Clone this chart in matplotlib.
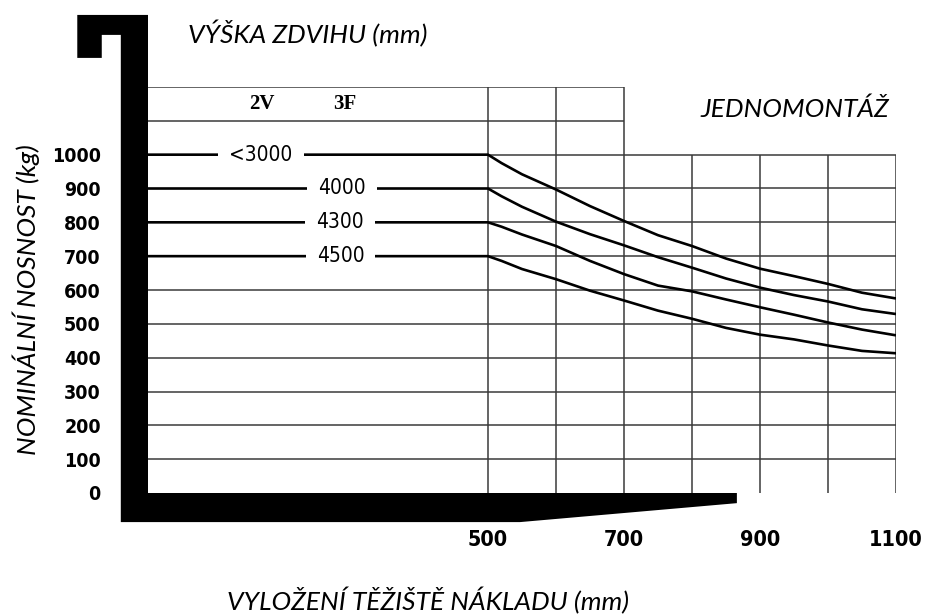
import matplotlib
matplotlib.use("Agg")
import matplotlib.pyplot as plt
from matplotlib import font_manager
from matplotlib.patches import Polygon

# load centre distance (mm) and rated capacity (kg) for each lift height
load_centre = [0, 500, 520, 550, 600, 650, 700, 750, 800, 850, 900, 950, 1000, 1050, 1100]
cap_3000 = [1000, 1000, 975, 942, 897, 848, 804, 762, 730, 693, 663, 641, 618, 592, 575]
cap_4000 = [900, 900, 877, 846, 802, 765, 732, 697, 666, 634, 607, 585, 566, 543, 529]
cap_4300 = [800, 800, 787, 764, 730, 686, 647, 613, 596, 572, 549, 527, 504, 483, 466]
cap_4500 = [700, 700, 686, 662, 632, 598, 569, 539, 515, 488, 468, 454, 436, 420, 413]

lift_labels = ["<3000", "4000", "4300", "4500"]
lift_label_x = [166, 285, 282, 283]

y_ticks = [0, 100, 200, 300, 400, 500, 600, 700, 800, 900, 1000]
x_ticks = [500, 700, 900, 1100]

mast_labels = ["2V", "3F"]
mast_label_x = [167, 290]

# grid layout of the printed chart
full_rows = [100, 200, 300, 400, 500, 600]
right_rows = [700, 800, 900, 1000]
top_rows = [1100, 1200]
tall_cols = [500, 600, 700]
short_cols = [800, 900, 1000, 1100]

# pick a narrow font for the numbers if one is installed
fl = font_manager.fontManager.ttflist
if any(f.name == "Liberation Sans Narrow" for f in fl):
    num_font = dict(family=["Liberation Sans Narrow", "DejaVu Sans"])
    sizes = (19, 22, 18)
elif any(f.name == "DejaVu Sans" and f.stretch == "condensed" for f in fl):
    num_font = dict(family=["DejaVu Sans"], fontstretch="condensed")
    sizes = (14, 15.5, 15)
else:
    num_font = dict(family=["Liberation Sans", "DejaVu Sans"])
    sizes = (15, 16, 15)

light = dict(family=["Lato", "DejaVu Sans"], style="italic")

fig = plt.figure(figsize=(9.25, 6.15), dpi=100)
ax = fig.add_axes([148 / 925, 1 - 493 / 615, 748 / 925, 406 / 615])
ax.set_xlim(0, 1100)
ax.set_ylim(0, 1200)
for s in ax.spines.values():
    s.set_visible(False)

gc = "#3a3a3a"
ax.hlines(full_rows, 0, 1100, color=gc, lw=1.1, zorder=1)
ax.hlines(right_rows, 500, 1100, color=gc, lw=1.1, zorder=1)
ax.hlines(top_rows, 0, 700, color=gc, lw=1.1, zorder=1)
ax.vlines(tall_cols, 0, 1200, color=gc, lw=1.1, zorder=1)
ax.vlines(short_cols, 0, 1000, color=gc, lw=1.1, zorder=1)

curves = [cap_3000, cap_4000, cap_4300, cap_4500]
for c in curves:
    ax.plot(load_centre, c, color="black", lw=1.9, zorder=2, solid_capstyle="butt")

texts = []
for lab, lx, c in zip(lift_labels, lift_label_x, curves):
    t = ax.text(lx, c[0], lab, ha="center", va="center", fontsize=sizes[2],
                zorder=4, **num_font)
    texts.append((t, c[0]))

for lab, lx in zip(mast_labels, mast_label_x):
    ax.text(lx, 1150, lab, ha="center", va="center", fontsize=15,
            family=["Liberation Serif", "DejaVu Serif"], fontweight="bold")

# break the flat part of each curve where its label sits
fig.canvas.draw()
r = fig.canvas.get_renderer()
inv = ax.transData.inverted()
for t, yv in texts:
    bb = t.get_window_extent(r)
    x0 = inv.transform((bb.x0 - 11, 0))[0]
    x1 = inv.transform((bb.x1 + 11, 0))[0]
    ax.hlines(yv, x0, x1, color="white", lw=4, zorder=3)

# forklift outline: mast with hook, and fork
shape = [(-40, -86), (-40, 1354), (-68, 1354), (-68, 1286), (-104, 1286),
         (-104, 1413), (0, 1413), (0, 0), (866, 0), (866, -30), (547, -86)]
ax.add_patch(Polygon(shape, closed=True, fc="black", ec="none", clip_on=False, zorder=5))

ax.set_yticks(y_ticks)
ax.set_yticklabels([str(v) for v in y_ticks], fontweight="bold",
                   fontsize=sizes[0], **num_font)
ax.set_xticks(x_ticks)
ax.set_xticklabels([str(v) for v in x_ticks], fontweight="bold",
                   fontsize=sizes[1], **num_font)
ax.tick_params(axis="y", length=0, pad=34)
ax.tick_params(axis="x", length=0, pad=27)

fig.text(188 / 925, 1 - 43 / 615, "VÝŠKA ZDVIHU (mm)", ha="left", va="baseline",
         fontsize=19, **light)
fig.text(700 / 925, 1 - 117 / 615, "JEDNOMONTÁŽ", ha="left", va="baseline",
         fontsize=19, **light)
fig.text(227 / 925, 1 - 610 / 615, "VYLOŽENÍ TĚŽIŠTĚ NÁKLADU (mm)", ha="left", va="baseline",
         fontsize=19, **light)
fig.text(26 / 925, 1 - 300 / 615, "NOMINÁLNÍ NOSNOST (kg)", ha="center", va="center",
         rotation=90, fontsize=19, **light)

fig.savefig("out.png", dpi=100)
